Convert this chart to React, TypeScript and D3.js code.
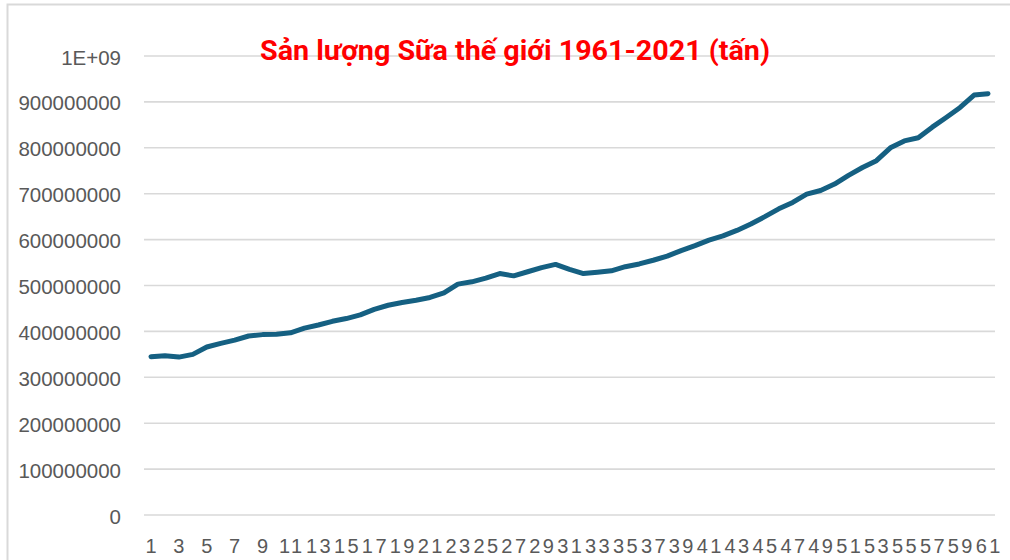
import { useEffect, useRef } from "react"
import * as d3 from "d3"

// Sản lượng sữa thế giới theo năm (1 = 1961 ... 61 = 2021), triệu tấn
const years = d3.range(1, 62)
const milkMillionTonnes = [
  345, 347, 344, 350, 366, 374, 381, 390, 393, 394,
  397, 407, 414, 422, 428, 436, 448, 457, 463, 468,
  474, 484, 503, 508, 516, 526, 521, 530, 539, 546,
  535, 526, 529, 532, 541, 547, 555, 564, 576, 587,
  599, 608, 620, 634, 650, 667, 681, 699, 707, 721,
  740, 757, 772, 800, 815, 822, 845, 866, 888, 915,
  918,
]
const yTicks = [0, 1e8, 2e8, 3e8, 4e8, 5e8, 6e8, 7e8, 8e8, 9e8, 1e9]
const title = "Sản lượng Sữa thế giới 1961-2021 (tấn)"

export default function App() {
  const svgRef = useRef<SVGSVGElement>(null)

  useEffect(() => {
    if (!svgRef.current) return
    const svg = d3.select(svgRef.current)
    svg.selectAll("*").remove()

    const data = years.map((yr, i) => ({ yr, v: milkMillionTonnes[i] * 1e6 }))

    const left = 144
    const right = 995
    const top = 56
    const bottom = 515

    const x = d3.scaleBand<number>().domain(years).range([left, right])
    const xc = (d: number) => (x(d) as number) + x.bandwidth() / 2
    const y = d3.scaleLinear().domain([0, 1e9]).range([bottom, top])

    // chart frame (extends past the picture on the right and bottom)
    svg
      .append("rect")
      .attr("x", 7.5)
      .attr("y", 4.5)
      .attr("width", 1100)
      .attr("height", 700)
      .attr("fill", "#fff")
      .attr("stroke", "#d9d9d9")
      .attr("stroke-width", 2)

    // grid lines
    svg
      .append("g")
      .selectAll("line")
      .data(yTicks)
      .enter()
      .append("line")
      .attr("x1", left)
      .attr("x2", right)
      .attr("y1", (d) => y(d))
      .attr("y2", (d) => y(d))
      .attr("stroke", "#d9d9d9")
      .attr("stroke-width", 1.6)

    // y labels
    svg
      .append("g")
      .selectAll("text")
      .data(yTicks)
      .enter()
      .append("text")
      .attr("x", 121)
      .attr("y", (d) => y(d) + 8.5)
      .attr("text-anchor", "end")
      .attr("fill", "#595959")
      .attr("font-family", "'Liberation Sans', Arial, sans-serif")
      .attr("font-size", 20.5)
      .text((d) => (d >= 1e9 ? "1E+09" : String(d)))

    // x labels, every second category
    svg
      .append("g")
      .selectAll("text")
      .data(years.filter((d) => d % 2 === 1))
      .enter()
      .append("text")
      .attr("x", (d) => xc(d) + 1.2)
      .attr("y", 553)
      .attr("text-anchor", "middle")
      .attr("fill", "#595959")
      .attr("font-family", "'Liberation Sans', Arial, sans-serif")
      .attr("font-size", 20)
      .attr("letter-spacing", 2.4)
      .text((d) => String(d))

    // line
    const line = d3
      .line<{ yr: number; v: number }>()
      .x((d) => xc(d.yr))
      .y((d) => y(d.v))

    svg
      .append("path")
      .datum(data)
      .attr("fill", "none")
      .attr("stroke", "#156082")
      .attr("stroke-width", 5)
      .attr("stroke-linejoin", "round")
      .attr("stroke-linecap", "round")
      .attr("d", line)

    // title
    svg
      .append("text")
      .attr("x", 260)
      .attr("y", 59.5)
      .attr("fill", "#ff0000")
      .attr("font-family", "Roboto, 'Noto Sans', sans-serif")
      .attr("font-weight", "bold")
      .attr("font-size", 27)
      .attr("textLength", 510)
      .attr("lengthAdjust", "spacingAndGlyphs")
      .text(title)
  }, [])

  return (
    <div style={{ position: "absolute", left: 0, top: 0 }}>
      <svg ref={svgRef} width={1010} height={560} style={{ display: "block" }}></svg>
    </div>
  )
}
